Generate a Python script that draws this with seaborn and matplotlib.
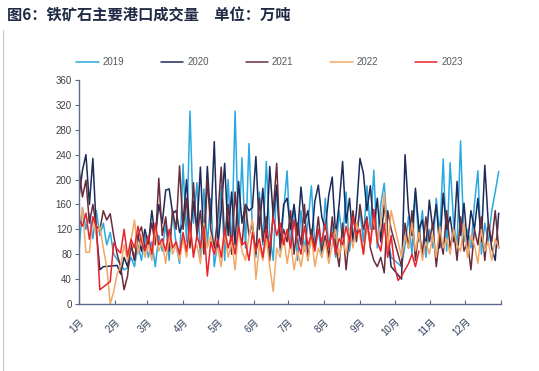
import numpy as np
import pandas as pd
import matplotlib
matplotlib.use('Agg')
import matplotlib.pyplot as plt
import seaborn as sns
from matplotlib.lines import Line2D

title = '图6：铁矿石主要港口成交量\u3000单位：万吨'
years = ['2019', '2020', '2021', '2022', '2023']
colors = ['#2aa9e0', '#1c2b5a', '#6b2c3a', '#f2a766', '#e8232b']
step_days = 3  # values sampled every 3 calendar days starting Jan 1

v2019 = [85, 155, 120, 145, 105, 150, 110, 130, 95, 115, 80,
         None, None, 55, 58, 75, 60, 95, 70, 110,
         75, 100, 60, 110, 85, 130, 70, 150, 95, 65,
         225, 100, 310, 130, 195, 75, 185, 95, 170, 60,
         100, 190, 70, 200, 85, 310, 110, 235, 90, 258,
         120, 75, 180, 95, 229, 110, 70, 190, 85, 150,
         214, 90, 160, 70, 150, 85, 130, 190, 95, 120, 75,
         170, 90, 130, 75, 150, 100, 180, 85, 140, 110,
         150, 100, 190, 120, 215, 90, 160, 194, 110, 75,
         None, None, 60, 95, 140, 80, 180, 100, 150, 75, 120,
         90, 170, 110, 233, 85, 227, 130, 95, 262, 100,
         120, 90, 160, 214, 80, 130, 100, 150, 180, 213]

v2020 = [172, 215, 240, 160, 234, 118, 55, 60, None, None, None,
         62, 48, 75, 60, 95, 70, 110, 85, 120,
         95, 150, 105, 160, 130, 183, 185, 145, 150, 115,
         130, 200, 110, 165, 120, 220, 95, 221, 130, 261,
         90, 150, 226, 110, 180, 95, 197, 130, 160, 150,
         155, 237, 120, 186, 100, 221, 140, 191, 95, 160,
         170, 120, 160, 110, 188, 130, 150, 100, 165, 191, 140,
         120, 175, 204, 110, 160, 229, 130, 170, 100, 150,
         234, 210, 150, 190, 120, 170, 100, 160, 110, 60,
         None, None, 40, 240, 150, 110, 186, 120, 135, 90, 167,
         120, 160, 90, 178, 120, 140, 100, 197, 110, 162,
         95, 150, 120, 170, 100, 223, 130, 90, 70, 146]

v2021 = [218, 172, 199, 130, 160, 125, 119, 150, 135, 145, 110,
         80, 60, 23, 45, 98, 70, 110, 124, 90,
         100, 130, 95, 202, 110, 140, 85, 150, 120, 222,
         120, 170, 90, 195, 110, 150, 80, 200, 120, 90,
         140, 220, 100, 160, 80, 180, 120, 95, 160, 110,
         130, 80, 170, 100, 140, 70, 150, 226, 90, 120,
         100, 150, 80, 130, 95, 160, 70, 120, 90, 140, 85,
         110, 75, 140, 95, 60, 130, 55, 110, 150, 100,
         160, 120, 140, 90, 70, 60, 75, 50, 150, 120,
         None, None, 60, 130, 90, 150, 70, 120, 80, 140, 100,
         130, 60, 110, 80, 150, 90, 120, 70, 140, 85,
         100, 55, 120, 95, 140, 70, 130, 100, 150, 90]

v2022 = [120, 155, 83, 83, 140, 110, 125, 90, 60, 0, 20,
         49, 60, 95, 70, 102, 135, 80, 110, 75,
         95, 70, 120, 85, 100, 65, 110, 80, 95, 70,
         105, 75, 120, 85, 95, 65, 130, 90, 110, 80,
         90, 60, 115, 75, 100, 55, 120, 85, 70, 110,
         136, 40, 95, 70, 105, 60, 20, 90, 75, 110,
         65, 100, 55, 85, 60, 95, 70, 110, 60, 90, 75,
         100, 65, 95, 120, 75, 105, 80, 120, 90, 130,
         110, 80, 125, 95, 140, 100, 130, 178, 90, 150,
         None, None, 75, 110, 90, 130, 85, 115, 70, 100, 80,
         110, 75, 125, 90, 105, 80, 120, 95, 85, 130,
         75, 110, 95, 65, 120, 85, 100, 70, 105, 90]

v2023 = [136, 125, 146, 104, 140, 125, 23, None, None, 36, 98,
         88, 82, 120, 77, 104, 90, 125, 100, 85,
         110, 80, 130, 95, 105, 85, 120, 90, 100, 80,
         115, 85, 130, 75, 110, 90, 125, 45, 100, 80,
         105, 75, 120, 90, 110, 80, 125, 95, 100, 70,
         115, 85, 105, 75, 120, 90, 140, 110, 130, 95,
         120, 90, 135, 100, 80, 125, 95, 110, 85, 120, 100,
         130, 90, 115, 80, 105, 95, 125, 100, 140, 110,
         120, 80, 135, 95, 152, 100, 85, 130, 75, 110,
         60, 38, 45, 55, 65, 80, 60, 85]

month_labels = ['1月', '2月', '3月', '4月', '5月', '6月',
                '7月', '8月', '9月', '10月', '11月', '12月']
month_starts = [1, 32, 60, 91, 121, 152, 182, 213, 244, 274, 305, 335, 366]
yticks = list(range(0, 361, 40))

rows = []
for yr, vals in zip(years, [v2019, v2020, v2021, v2022, v2023]):
    for i, v in enumerate(vals):
        rows.append({'day': 1 + step_days * i,
                     'value': np.nan if v is None else float(v),
                     'year': yr})
df = pd.DataFrame(rows).dropna()

sns.set_theme(style='white')
plt.rcParams['font.family'] = ['Liberation Sans', 'Noto Sans CJK SC', 'DejaVu Sans']

fig = plt.figure(figsize=(5.39, 3.71), dpi=100)
ax = fig.add_axes([79 / 539, 1 - 304 / 371, 422 / 539, 224 / 371])

sns.lineplot(data=df, x='day', y='value', hue='year', hue_order=years,
             palette=dict(zip(years, colors)), estimator=None, sort=False,
             linewidth=1.1, ax=ax)

handles, labels = ax.get_legend_handles_labels()
if ax.get_legend() is not None:
    ax.get_legend().remove()
fig.legend(handles, labels, loc='center', bbox_to_anchor=(0.5, 1 - 62 / 371),
           ncol=5, frameon=False, fontsize=7, handlelength=2.3,
           columnspacing=3.8, handletextpad=0.4, labelcolor='#595959')

ax.set_xlim(1, 366)
ax.set_ylim(0, 360)
ax.set_xlabel('')
ax.set_ylabel('')
ax.set_yticks(yticks)
ax.set_xticks(month_starts)
ax.set_xticklabels(month_labels + [''], rotation=45, ha='right',
                   rotation_mode='anchor')

spine_color = '#5b6b8c'
for s in ['top', 'right']:
    ax.spines[s].set_visible(False)
for s in ['left', 'bottom']:
    ax.spines[s].set_color(spine_color)
    ax.spines[s].set_linewidth(1.0)
ax.tick_params(axis='y', left=True, direction='out', length=3, width=0.8,
               color=spine_color, labelsize=7, labelcolor='#404040', pad=2)
ax.tick_params(axis='x', bottom=True, direction='in', length=3, width=0.8,
               color=spine_color, labelsize=7, labelcolor='#2f3e5c', pad=9)

fig.text(7 / 539, 1 - 15 / 371, title, fontsize=11, fontweight='bold',
         color='#1f2a44', va='center', ha='left',
         family=['Noto Sans CJK SC', 'DejaVu Sans'])
fig.add_artist(Line2D([3 / 539, 3 / 539], [0, 1 - 30 / 371],
                      color='#c8c8c8', lw=0.8))

fig.savefig('out.png', dpi=100, facecolor='white')
